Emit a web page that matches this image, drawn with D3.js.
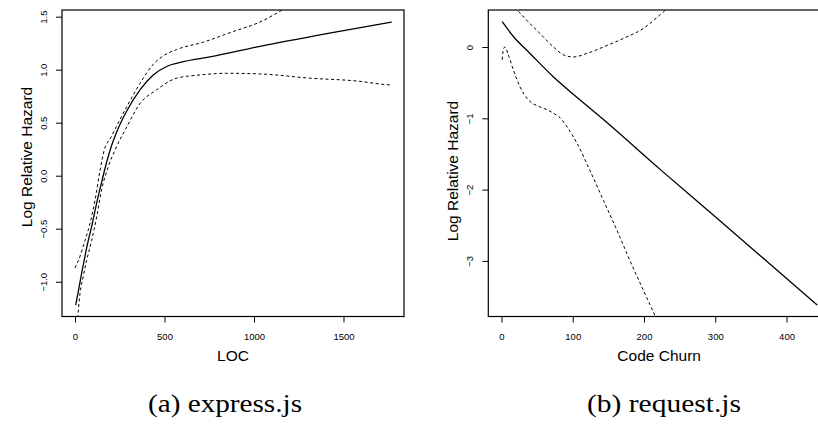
<!DOCTYPE html>
<html>
<head>
<meta charset="utf-8">
<script src="https://cdn.jsdelivr.net/npm/d3@7"></script>
<style>
  body { margin: 0; background: #fff; }
  svg { display: block; }
  text { font-family: "Liberation Sans", Arial, Helvetica, sans-serif; fill: #000; }
  .caption { font-family: "Liberation Serif", "Times New Roman", serif; }
</style>
</head>
<body>
<svg id="chart" width="818" height="424"></svg>
<script>
// express.js: log relative hazard against lines of code
const locX     = [4, 22, 37, 50, 65, 80, 93, 112, 130, 149, 168, 196, 240, 289, 363, 437, 512, 605, 754, 1034, 1406, 1769];
const locFit   = [-1.22, -1.06, -0.92, -0.81, -0.68, -0.57, -0.48, -0.33, -0.19, -0.06, 0.07, 0.24, 0.44, 0.61, 0.81, 0.95, 1.03, 1.075, 1.12, 1.22, 1.34, 1.45];
const locUpX   = [0, 28, 56, 84, 112, 140, 163, 200, 233, 289, 363, 437, 493, 568, 717, 884, 1034, 1155, 1300];
const locUp    = [-0.87, -0.76, -0.61, -0.45, -0.23, 0.05, 0.24, 0.36, 0.47, 0.65, 0.87, 1.05, 1.13, 1.19, 1.26, 1.36, 1.45, 1.56, 1.70];
const locLoX   = [10, 28, 46, 65, 93, 121, 149, 186, 223, 289, 363, 456, 568, 698, 847, 1034, 1313, 1592, 1704, 1769];
const locLo    = [-1.45, -1.11, -0.95, -0.80, -0.61, -0.39, -0.13, 0.085, 0.24, 0.46, 0.68, 0.81, 0.92, 0.95, 0.966, 0.96, 0.92, 0.89, 0.865, 0.855];
const locXTicks = [0, 500, 1000, 1500];
const locYTicks = [-1.0, -0.5, 0.0, 0.5, 1.0, 1.5];

// request.js: log relative hazard against code churn
const churnX    = [1, 17, 40, 73, 110, 141, 223, 300, 443];
const churnFit  = [0.355, 0.144, -0.09, -0.42, -0.74, -1.0, -1.72, -2.38, -3.62];
const churnUpX  = [1, 12, 22, 35, 54, 73, 87, 101, 120, 143, 171, 199, 227, 240];
const churnUp   = [0.9, 0.62, 0.52, 0.38, 0.19, 0.0, -0.11, -0.14, -0.09, 0.0, 0.12, 0.26, 0.49, 0.6];
const churnLoX  = [1, 3, 5, 9.6, 16.6, 26, 37.6, 54, 64, 73, 82, 92, 106, 124, 143, 162, 180, 199, 216, 225];
const churnLo   = [-0.18, -0.02, 0.0, -0.11, -0.32, -0.56, -0.74, -0.84, -0.88, -0.93, -0.99, -1.12, -1.35, -1.73, -2.15, -2.57, -2.99, -3.41, -3.78, -3.98];
const churnXTicks = [0, 100, 200, 300, 400];
const churnYTicks = [0, -1, -2, -3];

const svg = d3.select("#chart");
const minus = s => s.replace("-", "\u2212");

function panel(cfg) {
  const x = d3.scaleLinear().domain(cfg.xDomain).range([cfg.left, cfg.right]);
  const y = d3.scaleLinear().domain(cfg.yDomain).range([cfg.bottom, cfg.top]);
  const g = svg.append("g");

  const clipId = "clip-" + cfg.id;
  svg.append("defs").append("clipPath").attr("id", clipId)
    .append("rect")
    .attr("x", cfg.left).attr("y", cfg.top)
    .attr("width", cfg.right - cfg.left).attr("height", cfg.bottom - cfg.top);

  const line = d3.line().curve(d3.curveMonotoneX).x(d => x(d[0])).y(d => y(d[1]));
  const plot = g.append("g").attr("clip-path", `url(#${clipId})`);

  cfg.series.forEach(s => {
    plot.append("path")
      .datum(d3.zip(s.x, s.y))
      .attr("d", line)
      .attr("fill", "none")
      .attr("stroke", "#000")
      .attr("stroke-width", s.dashed ? 1 : 1.3)
      .attr("stroke-dasharray", s.dashed ? "3,2.6" : null);
  });

  // frame
  g.append("rect")
    .attr("x", cfg.left).attr("y", cfg.top)
    .attr("width", cfg.right - cfg.left).attr("height", cfg.bottom - cfg.top)
    .attr("fill", "none").attr("stroke", "#000").attr("stroke-width", 1.2);

  // bottom axis
  const xAxis = d3.axisBottom(x).tickValues(cfg.xTicks).tickSize(6).tickSizeOuter(0)
    .tickFormat(d3.format("d"));
  const xg = g.append("g").attr("transform", `translate(0,${cfg.bottom})`).call(xAxis);
  xg.select(".domain").remove();
  xg.selectAll(".tick line").attr("stroke", "#000").attr("stroke-width", 1);
  xg.selectAll(".tick text").attr("y", 17).attr("font-size", 9.5)
    .attr("font-family", "Liberation Sans, Arial, sans-serif");

  // left axis with labels parallel to the axis
  const yAxis = d3.axisLeft(y).tickValues(cfg.yTicks).tickSize(6).tickSizeOuter(0)
    .tickFormat(d => minus(cfg.yFormat(d)));
  const yg = g.append("g").attr("transform", `translate(${cfg.left},0)`).call(yAxis);
  yg.select(".domain").remove();
  yg.selectAll(".tick line").attr("stroke", "#000").attr("stroke-width", 1);
  yg.selectAll(".tick text")
    .attr("x", null).attr("dy", null)
    .attr("text-anchor", "middle")
    .attr("font-size", 9.5)
    .attr("font-family", "Liberation Sans, Arial, sans-serif")
    .attr("transform", `translate(-15,0) rotate(-90)`);

  // axis titles
  g.append("text")
    .attr("x", (cfg.left + cfg.right) / 2).attr("y", cfg.bottom + 44)
    .attr("text-anchor", "middle").attr("font-size", 15.5)
    .text(cfg.xTitle);
  g.append("text")
    .attr("transform", `translate(${cfg.left - 30},${cfg.yTitleY}) rotate(-90)`)
    .attr("text-anchor", "middle").attr("font-size", 15.5)
    .text(cfg.yTitle);

  // caption
  svg.append("text").attr("class", "caption")
    .attr("x", cfg.captionX).attr("y", 412)
    .attr("text-anchor", "middle").attr("font-size", 25)
    .attr("textLength", 154).attr("lengthAdjust", "spacingAndGlyphs")
    .text(cfg.caption);
}

panel({
  id: "a", left: 62, right: 404, top: 10, bottom: 316.5,
  xDomain: [-72.6, 1838], yDomain: [-1.328, 1.563],
  xTicks: locXTicks, yTicks: locYTicks, yFormat: d3.format(".1f"),
  xTitle: "LOC", yTitle: "Log Relative Hazard", yTitleY: 157,
  caption: "(a) express.js", captionX: 225,
  series: [
    { x: locX, y: locFit, dashed: false },
    { x: locUpX, y: locUp, dashed: true },
    { x: locLoX, y: locLo, dashed: true }
  ]
});

panel({
  id: "b", left: 488.3, right: 830, top: 10, bottom: 316.5,
  xDomain: [-18.5, 461], yDomain: [-3.78, 0.519],
  xTicks: churnXTicks, yTicks: churnYTicks, yFormat: d3.format("d"),
  xTitle: "Code Churn", yTitle: "Log Relative Hazard", yTitleY: 171,
  caption: "(b) request.js", captionX: 664,
  series: [
    { x: churnX, y: churnFit, dashed: false },
    { x: churnUpX, y: churnUp, dashed: true },
    { x: churnLoX, y: churnLo, dashed: true }
  ]
});
</script>
</body>
</html>
